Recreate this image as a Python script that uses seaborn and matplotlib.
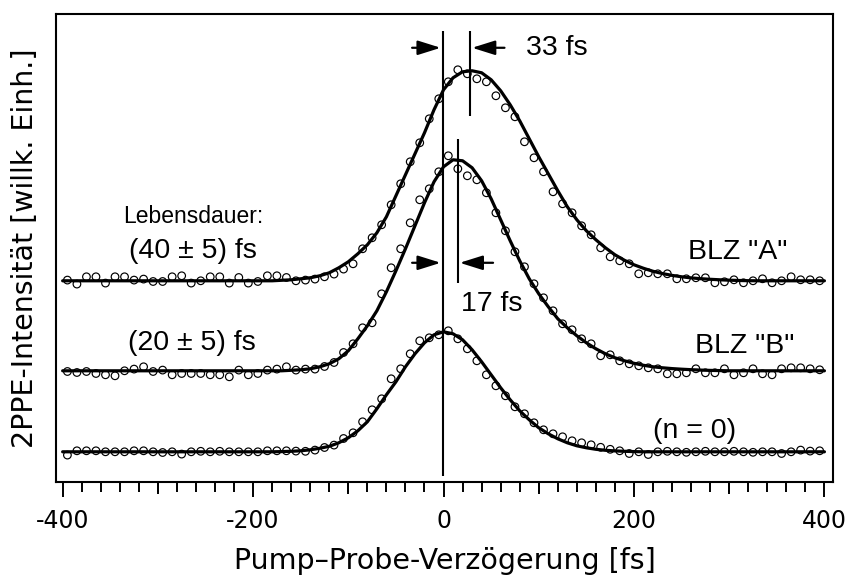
import numpy as np
import pandas as pd
import seaborn as sns
from matplotlib import pyplot as plt
from matplotlib.ticker import MultipleLocator

# delay grids [fs]: measured points and fit curve
delay_data = np.arange(-395, 396, 10)
delay_fit = np.arange(-400, 401, 10)

# 2PPE signal above each trace's own baseline (arb. units)
data_A = [0.7, -3.3, 4, 4, -2.3, 4, 4, 0.7, 1.7, -0.7, -0.7, 4, 5, -2.3, 0, 4, 4, -2.3, 3.3, -2.3,
          -0.7, 5, 5, 3.3, 0, 0.7, 1.7, 4, 6.7, 11.7,
          17, 32, 43, 56, 76, 97, 119, 138, 162, 182, 199, 211, 207, 202, 199, 185, 173, 164, 139, 123,
          109, 89, 77, 68, 55, 46, 33, 24, 20, 17, 7, 8, 7, 7, 2, 2, 3, 3, -2, -1,
          1, -2, 0, 2, -2, 0, 4, 1, 1, 0]
data_B = [-0.7, -1.7, -0.7, -2.7, -4, -5, 0, 1.7, 4, -0.7, 0.7, -4, -2.7, -2.7, -2.7, -4, -4, -6, 0.7, -4,
          -2.7, 0.7, 1.7, 4, 0.7, 1.7, 1.7, 4.3, 8.3, 18.3,
          27, 43, 48, 77, 103, 122, 148, 171, 182, 199, 215, 202, 195, 191, 178, 158, 140, 119, 104, 87,
          73, 60, 47, 41, 32, 27, 15, 16, 10, 7, 5, 3, 2, -3, -3, -2, 2, -2, -2, 2,
          -4, -2, 2, -3, -4, 2, 3, 3, 2, 1]
data_n0 = [-3.3, 1, 1, 1, 0, 0, 0, 1, 1, 0, -0.7, 0, -2.3, 0, 0.5, 0, 0.5, 0, 0, 0,
           0, 1, 1, 1, 0.7, 0.5, 1.7, 4.3, 6.7, 13.3,
           19, 30, 42, 53, 73, 83, 98, 111, 114, 117, 121, 113, 103, 91, 77, 66, 56, 45, 38, 29,
           22, 18, 15, 11, 9, 7, 4.5, 2.5, 1, -1.7, 0, -2.7, 0, 0.5, 0, -0.5, 0, 0.5, 0, 0,
           0.5, 0, -0.5, 0, 0, -1.7, 0, 1.7, 0.7, 1]

fit_A = [0] * 23 + [0.5, 1, 2, 3, 5, 8, 13, 19, 27, 36, 48, 64, 85, 106, 127, 148, 171, 191, 203, 209,
                    210, 208, 201, 190, 176, 160, 142, 124, 107, 90, 74, 61, 50, 41, 33, 26, 20.5, 16, 12.5, 9.5,
                    7.2, 5.4, 4, 2.9, 2.1, 1.5, 1, 0.6, 0.3] + [0.1] + [0] * 8
fit_B = [0] * 24 + [0.5, 1, 2, 4, 7, 12, 20, 32, 45, 60, 79, 100, 122, 145, 168, 189, 204, 211, 210, 203,
                    190, 172, 151, 130, 110, 92, 77, 64, 52, 43, 35, 28, 22, 17, 13, 10, 7.5, 5.5, 4, 3,
                    2.2, 1.6, 1.1, 0.7, 0.4, 0.2] + [0] * 11
fit_n0 = [0] * 23 + [0.2, 0.5, 1, 2, 3.5, 5.5, 9, 14, 21, 30, 43, 57, 70, 85, 98, 109, 117, 120, 118, 112,
                     102, 90, 77, 64, 52, 41, 32, 24, 18, 13, 9, 6, 4, 2.5, 1.5, 0.9, 0.5, 0.2] + [0] * 20

traces = ['A', 'B', 'n0']
offsets = {'A': 201, 'B': 111, 'n0': 30}

# guide positions [fs]
t_zero = -1
t_peak_A = 28
t_peak_B = 15

df_data = pd.concat([pd.DataFrame({'delay': delay_data, 'signal': np.array(v) + offsets[k], 'trace': k})
                     for k, v in zip(traces, [data_A, data_B, data_n0])])
df_fit = pd.concat([pd.DataFrame({'delay': delay_fit, 'signal': np.array(v) + offsets[k], 'trace': k})
                    for k, v in zip(traces, [fit_A, fit_B, fit_n0])])

sns.set_style('ticks', {'axes.edgecolor': 'black', 'text.color': 'black', 'xtick.color': 'black',
                        'axes.labelcolor': 'black'})
plt.rcParams['font.family'] = ['DejaVu Sans']
plt.rcParams['axes.unicode_minus'] = False

fig = plt.figure(figsize=(8.52, 5.77), dpi=100)
ax = fig.add_axes([0.0657, 0.165, 0.912, 0.8106])

for k in traces:
    sns.scatterplot(data=df_data[df_data.trace == k], x='delay', y='signal', ax=ax, marker='o', s=30,
                    facecolor='none', edgecolor='black', linewidth=0.85, zorder=2)
    sns.lineplot(data=df_fit[df_fit.trace == k], x='delay', y='signal', ax=ax, color='black', lw=2.3,
                 zorder=3)

ax.set_xlim(-407, 409)
ax.set_ylim(0, 467.7)

# guide lines
ax.vlines(t_zero, 6, 451, color='black', lw=1.5)
ax.vlines(t_peak_A, 366, 451, color='black', lw=1.5)
ax.vlines(t_peak_B, 199, 343, color='black', lw=1.5)

arrow = dict(arrowstyle='-|>,head_length=0.7,head_width=0.22', color='black', lw=1.6,
             shrinkA=0, shrinkB=0, mutation_scale=20)
ax.annotate('', xy=(t_zero - 2, 434), xytext=(-33, 434), arrowprops=arrow)
ax.annotate('', xy=(t_peak_A + 2, 434), xytext=(64, 434), arrowprops=arrow)
ax.annotate('', xy=(t_zero - 2, 219), xytext=(-33, 219), arrowprops=arrow)
ax.annotate('', xy=(t_peak_B + 2, 219), xytext=(52, 219), arrowprops=arrow)

txt = dict(family=['Liberation Sans', 'DejaVu Sans'], fontsize=20.5, va='center', color='black')
ax.text(87, 434, '33 fs', ha='left', **txt)
ax.text(18, 178, '17 fs', ha='left', **txt)
ax.text(-263, 265, 'Lebensdauer:', ha='center', **dict(txt, fontsize=16.5))
ax.text(-263, 231, '(40 ± 5) fs', ha='center', **txt)
ax.text(-264, 139, '(20 ± 5) fs', ha='center', **txt)
ax.text(257, 230, 'BLZ "A"', ha='left', **txt)
ax.text(264, 136, 'BLZ "B"', ha='left', **txt)
ax.text(220, 51, '(n = 0)', ha='left', **txt)

# axes styling
for s in ax.spines.values():
    s.set_linewidth(1.5)
ax.set_yticks([])
ax.xaxis.set_major_locator(MultipleLocator(200))
ax.xaxis.set_minor_locator(MultipleLocator(20))
ax.tick_params(axis='x', which='major', length=10.8, width=1.4, direction='out', labelsize=17, pad=9)
ax.tick_params(axis='x', which='minor', length=7.2, width=1.4, direction='out')
sec = ax.secondary_xaxis('bottom')
sec.set_xticks([-300, -100, 100, 300])
sec.tick_params(length=8.6, width=1.4, labelbottom=False)
sec.spines['bottom'].set_visible(False)

ax.set_xlabel('Pump–Probe-Verzögerung [fs]', fontsize=20.5, labelpad=10)
ax.set_ylabel('2PPE-Intensität [willk. Einh.]', fontsize=20.5, labelpad=12)

fig.savefig('out.png', dpi=100)
